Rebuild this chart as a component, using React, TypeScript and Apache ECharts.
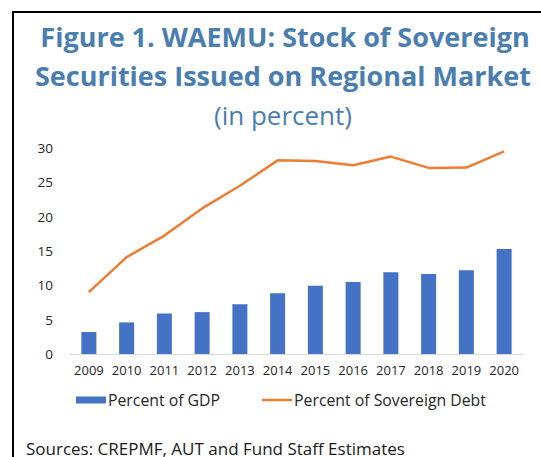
import React, { useEffect, useRef } from "react";
import * as echarts from "echarts";

const years = ["2009", "2010", "2011", "2012", "2013", "2014", "2015", "2016", "2017", "2018", "2019", "2020"];
const pctGDP = [3.2, 4.6, 5.9, 6.1, 7.25, 8.85, 9.95, 10.5, 11.9, 11.65, 12.2, 15.3];
const pctDebt = [9.0, 14.1, 17.25, 21.2, 24.5, 28.2, 28.1, 27.5, 28.75, 27.1, 27.15, 29.5];
const titleLines = ["Figure 1. WAEMU: Stock of Sovereign", "Securities Issued on Regional Market"];
const subtitle = "(in percent)";
const sourceText = "Sources: CREPMF, AUT and Fund Staff Estimates";

const FONT = "'Open Sans', 'Noto Sans', sans-serif";
const TITLE_COLOR = "#4a7eb0";

export default function App() {
  const ref = useRef<HTMLDivElement>(null);
  useEffect(() => {
    if (!ref.current) return;
    const chart = echarts.init(ref.current, undefined, { renderer: "svg" });
    chart.setOption({
      animation: false,
      backgroundColor: "#ffffff",
      grid: { left: 70, right: 18, top: 148, bottom: 103, containLabel: false },
      legend: {
        left: 71,
        top: 387,
        itemWidth: 30,
        itemHeight: 7,
        itemGap: 42,
        textStyle: { fontFamily: FONT, fontSize: 15.8, color: "#262626", padding: [0, 0, 0, -3] },
        data: [
          { name: "Percent of GDP", icon: "rect" },
          { name: "Percent of Sovereign Debt", icon: "path://M0,0 L30,0 L30,2.5 L0,2.5 Z" },
        ],
      },
      xAxis: {
        type: "category",
        data: years,
        axisLine: { lineStyle: { color: "#d9d9d9", width: 1 } },
        axisTick: { show: false },
        axisLabel: { fontFamily: FONT, fontSize: 13, color: "#262626", margin: 9, interval: 0 },
      },
      yAxis: {
        type: "value",
        min: 0,
        max: 30,
        interval: 5,
        splitLine: { show: false },
        axisLine: { show: false },
        axisTick: { show: false },
        axisLabel: { fontFamily: FONT, fontSize: 13.5, color: "#262626", margin: 17 },
      },
      series: [
        {
          name: "Percent of GDP",
          type: "bar",
          data: pctGDP,
          barWidth: 15,
          itemStyle: { color: "#4472c4" },
        },
        {
          name: "Percent of Sovereign Debt",
          type: "line",
          data: pctDebt,
          symbol: "none",
          lineStyle: { color: "#ed7d31", width: 2.5 },
          itemStyle: { color: "#ed7d31" },
        },
      ],
      graphic: [
        { type: "line", shape: { x1: 13, y1: 12, x2: 541, y2: 12 }, style: { stroke: "#000", lineWidth: 2 } },
        { type: "line", shape: { x1: 13, y1: 11, x2: 13, y2: 457 }, style: { stroke: "#000", lineWidth: 2 } },
        {
          type: "text",
          x: 285,
          y: 36,
          style: { text: titleLines[0], fill: TITLE_COLOR, font: `bold 27px ${FONT}`, textAlign: "center", textVerticalAlign: "middle" },
        },
        {
          type: "text",
          x: 283,
          y: 75,
          style: { text: titleLines[1], fill: TITLE_COLOR, font: `bold 27px ${FONT}`, textAlign: "center", textVerticalAlign: "middle" },
        },
        {
          type: "text",
          x: 283,
          y: 115,
          style: { text: subtitle, fill: TITLE_COLOR, font: `26px ${FONT}`, textAlign: "center", textVerticalAlign: "middle" },
        },
        {
          type: "text",
          x: 26,
          y: 448,
          style: { text: sourceText, fill: "#1a1a1a", font: `17px ${FONT}`, textAlign: "left", textVerticalAlign: "middle" },
        },
      ],
    });
    return () => chart.dispose();
  }, []);
  return <div ref={ref} style={{ width: 541, height: 457, position: "absolute", left: 0, top: 0 }} />;
}
